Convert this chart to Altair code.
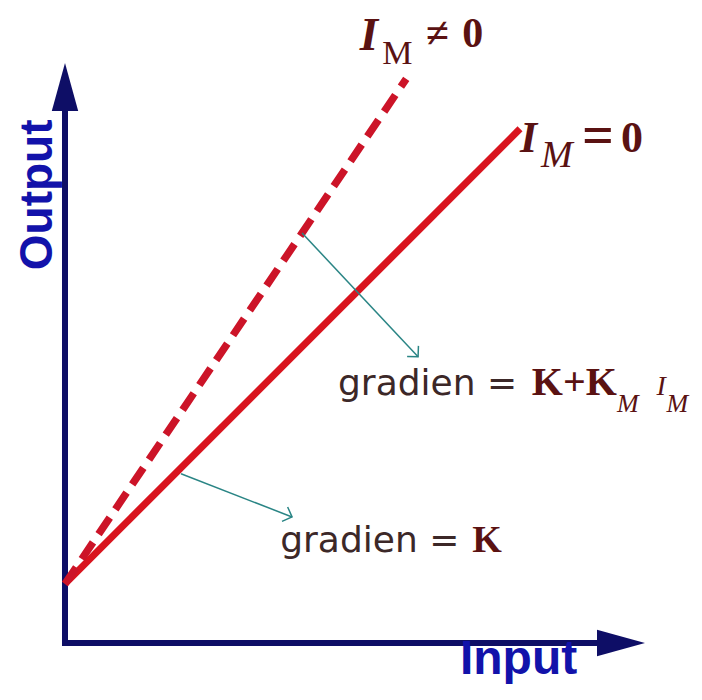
import altair as alt
import pandas as pd

# ---- data (units: Input / Output) ----
solid_input = [0, 10]
solid_output = [1.3, 11.3]          # I_M = 0, gradient K
dashed_input = [0, 7.5]
dashed_output = [1.3, 12.4]         # I_M != 0, gradient K + K_M I_M

axis_end = [11.7]                   # end of axis shafts
arrow_head = [12.22]                # arrowhead centres

ann_x = [5.21, 2.55]
ann_y = [9.01, 3.72]
ann_x2 = [7.76, 4.99]
ann_y2 = [6.29, 2.77]
ann_angle = [46.9, 21.3]

bi_text = ["I", "I"]
bi_x = [6.48, 10.0]
bi_y = [13.04, 10.79]
bi_fs = [47, 44]

rs_text = ["M"]
rs_x = [6.97]
rs_y = [12.73]
rs_fs = [34]

it_text = ["M", "M", "I", "M"]
it_x = [10.46, 12.13, 13.0, 13.22]
it_y = [10.46, 5.08, 5.45, 5.08]
it_fs = [38, 26, 28, 26]

bs_text = ["≠", "0", "=", "0", "K+K", "K"]
bs_x = [7.93, 8.73, 11.36, 12.22, 10.26, 8.95]
bs_y = [13.10, 13.10, 10.75, 10.79, 5.45, 2.0]
bs_fs = [42, 42, 56, 44, 40, 38]

sans_text = ["gradien =", "gradien ="]
sans_x = [6.0, 4.73]
sans_y = [5.45, 2.0]

out_x, out_y = [-0.286], [9.85]
in_x, in_y = [8.68], [-0.69]

# ---- scales ----
xs = alt.Scale(domain=[-1.2527, 13.8242], nice=False, zero=False)
ys = alt.Scale(domain=[-0.9011, 13.956], nice=False, zero=False)

NAVY = "#0e0e66"
RED = "#d9141e"
DRED = "#cc1428"
TEAL = "#2a8585"
MAROON = "#5a1212"
GREY = "#3c2828"
BLUE = "#1212aa"


def X(f="x"):
    return alt.X(f"{f}:Q", scale=xs, axis=None)


def Y(f="y"):
    return alt.Y(f"{f}:Q", scale=ys, axis=None)


axes_df = pd.DataFrame({"x": [0, 0], "y": [0, 0],
                        "x2": [axis_end[0], 0], "y2": [0, axis_end[0]]})
axes = alt.Chart(axes_df).mark_rule(color=NAVY, strokeWidth=6, strokeCap="square").encode(
    x=X(), y=Y(), x2="x2:Q", y2="y2:Q")

head_x = alt.Chart(pd.DataFrame({"x": arrow_head, "y": [0]})).mark_point(
    shape="M1,0L-1,-0.55L-1,0.55Z", size=2304, filled=True, opacity=1, color=NAVY
).encode(x=X(), y=Y())
head_y = alt.Chart(pd.DataFrame({"x": [0], "y": arrow_head})).mark_point(
    shape="M0,-1L-0.55,1L0.55,1Z", size=2304, filled=True, opacity=1, color=NAVY
).encode(x=X(), y=Y())

solid = alt.Chart(pd.DataFrame({"x": solid_input, "y": solid_output})).mark_line(
    color=RED, strokeWidth=7).encode(x=X(), y=Y())
dashed = alt.Chart(pd.DataFrame({"x": dashed_input, "y": dashed_output})).mark_line(
    color=DRED, strokeWidth=7.5, strokeDash=[20, 10]).encode(x=X(), y=Y())

ann_df = pd.DataFrame({"x": ann_x, "y": ann_y, "x2": ann_x2, "y2": ann_y2, "a": ann_angle})
ann_lines = alt.Chart(ann_df).mark_rule(color=TEAL, strokeWidth=1.5).encode(
    x=X(), y=Y(), x2="x2:Q", y2="y2:Q")
ann_heads = alt.Chart(ann_df).mark_point(
    shape="M-1,-1L0,0L-1,1", size=240, filled=False, strokeWidth=1.5, color=TEAL, opacity=1
).encode(x=X("x2"), y=Y("y2"), angle=alt.Angle("a:Q", scale=None))


def text_layer(texts, xv, yv, fs, **kw):
    df = pd.DataFrame({"t": texts, "x": xv, "y": yv, "fs": fs})
    return alt.Chart(df).mark_text(align="left", baseline="alphabetic", **kw).encode(
        x=X(), y=Y(), text="t:N", size=alt.Size("fs:Q", scale=None))


t_bi = text_layer(bi_text, bi_x, bi_y, bi_fs, font="Liberation Serif",
                  fontWeight="bold", fontStyle="italic", color=MAROON)
t_rs = text_layer(rs_text, rs_x, rs_y, rs_fs, font="Liberation Serif", color=MAROON)
t_it = text_layer(it_text, it_x, it_y, it_fs, font="Liberation Serif",
                  fontStyle="italic", color=MAROON)
t_bs = text_layer(bs_text, bs_x, bs_y, bs_fs, font="Liberation Serif",
                  fontWeight="bold", color=MAROON)
t_sans = text_layer(sans_text, sans_x, sans_y, [36, 36], font="DejaVu Sans", color=GREY)

t_out = alt.Chart(pd.DataFrame({"t": ["Output"], "x": out_x, "y": out_y})).mark_text(
    align="center", baseline="alphabetic", angle=270, font="Liberation Sans",
    fontWeight="bold", fontSize=46, color=BLUE).encode(x=X(), y=Y(), text="t:N")
t_in = alt.Chart(pd.DataFrame({"t": ["Input"], "x": in_x, "y": in_y})).mark_text(
    align="left", baseline="alphabetic", font="Liberation Sans",
    fontWeight="bold", fontSize=48, color=BLUE).encode(x=X(), y=Y(), text="t:N")

chart = alt.layer(
    axes, head_x, head_y, solid, dashed, ann_lines, ann_heads,
    t_bi, t_rs, t_it, t_bs, t_sans, t_out, t_in
).properties(
    width=686, height=676, padding=0, autosize="none", background="white"
).configure_view(stroke=None)

chart.save("out.html", embed_options={"renderer": "svg", "actions": False})
